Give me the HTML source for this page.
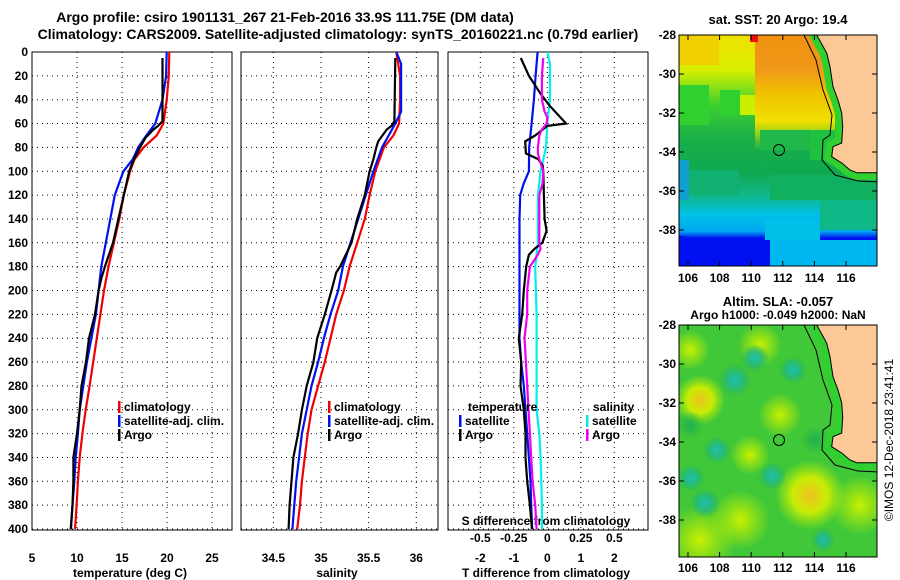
<!DOCTYPE html>
<html><head><meta charset="utf-8"><style>
body{margin:0;background:#fff;}
svg{display:block;font-family:"Liberation Sans",sans-serif;font-weight:bold;}
</style></head><body>
<svg id="chart" width="900" height="580" viewBox="0 0 900 580">
<defs>
<clipPath id="c1"><rect x="32" y="52" width="200" height="478"/></clipPath>
<clipPath id="c2"><rect x="241" y="52" width="197" height="478"/></clipPath>
<clipPath id="c3"><rect x="448" y="52" width="200" height="478"/></clipPath>
<clipPath id="cm1"><rect x="679" y="35" width="198" height="231"/></clipPath>
<clipPath id="cm2"><rect x="679" y="325" width="198" height="232"/></clipPath>
<radialGradient id="gy"><stop offset="0" stop-color="#f0c020"/><stop offset="0.5" stop-color="#d8f000" stop-opacity="0.9"/><stop offset="1" stop-color="#c0f000" stop-opacity="0"/></radialGradient>
<radialGradient id="gl"><stop offset="0" stop-color="#c8f000"/><stop offset="1" stop-color="#c8f000" stop-opacity="0"/></radialGradient>
<radialGradient id="gt"><stop offset="0" stop-color="#20c0b0"/><stop offset="0.5" stop-color="#20b888" stop-opacity="0.8"/><stop offset="1" stop-color="#20b060" stop-opacity="0"/></radialGradient>
<radialGradient id="gd"><stop offset="0" stop-color="#20b050"/><stop offset="1" stop-color="#20b050" stop-opacity="0"/></radialGradient>
<linearGradient id="sst" x1="0" y1="0" x2="0" y2="1">
<stop offset="0" stop-color="#f0e000"/><stop offset="0.15" stop-color="#d8f000"/><stop offset="0.3" stop-color="#40d030"/>
<stop offset="0.45" stop-color="#18b048"/><stop offset="0.6" stop-color="#10a850"/><stop offset="0.7" stop-color="#10b890"/>
<stop offset="0.78" stop-color="#00c0e8"/><stop offset="0.85" stop-color="#00a8f0"/><stop offset="0.88" stop-color="#0010f0"/><stop offset="1" stop-color="#0010f0"/>
</linearGradient>
<linearGradient id="sst2" x1="0" y1="0" x2="0" y2="1">
<stop offset="0" stop-color="#f09010"/><stop offset="0.3" stop-color="#f09818"/><stop offset="0.5" stop-color="#f0c000"/><stop offset="0.75" stop-color="#f0e000"/><stop offset="1" stop-color="#f0e000" stop-opacity="0"/>
</linearGradient>
</defs>
<text x="285" y="22" font-size="14" text-anchor="middle">Argo profile: csiro 1901131_267 21-Feb-2016 33.9S 111.75E (DM data)</text>
<text x="338" y="39" font-size="14" text-anchor="middle">Climatology: CARS2009. Satellite-adjusted climatology: synTS_20160221.nc (0.79d earlier)</text>

<g>
<text x="778" y="24" font-size="13" text-anchor="middle">sat. SST: 20 Argo: 19.4</text>
<g clip-path="url(#cm1)">
<rect x="679" y="35" width="198" height="231" fill="url(#sst)"/>
<rect x="679" y="35" width="40" height="30" fill="#f0d000"/>
<rect x="679" y="85" width="30" height="40" fill="#30d030"/>
<rect x="720" y="90" width="20" height="25" fill="#30d030"/>
<rect x="740" y="95" width="30" height="20" fill="#c8f000"/>
<rect x="755" y="35" width="80" height="115" fill="url(#sst2)"/>
<rect x="810" y="130" width="25" height="30" fill="#20c040"/>
<rect x="760" y="130" width="50" height="20" fill="#20b848"/>
<rect x="679" y="170" width="60" height="25" fill="#10b070"/>
<rect x="679" y="160" width="10" height="40" fill="#10a0d0"/>
<rect x="770" y="175" width="110" height="25" fill="#10b060"/>
<rect x="820" y="200" width="60" height="30" fill="#10b888"/>
<rect x="765" y="220" width="55" height="20" fill="#00c0e8"/>
<rect x="679" y="236" width="6" height="30" fill="#0010f0"/>
<rect x="770" y="240" width="110" height="26" fill="#00b8f0"/>
<rect x="750" y="35" width="8" height="7" fill="#f01010"/>
<path d="M816.7,35 L826.7,53 L830,66.7 L833,86.7 L838,100 L841.7,113 L842.7,126.7 L841.7,143 L833,146.7 L831.7,156.7 L841.7,163 L850,170 L856.7,172.7 L880,172.7 L880,30 Z" fill="#30d030" stroke="#30d030" stroke-width="14"/>
<path d="M816.7,35 L826.7,53 L830,66.7 L833,86.7 L838,100 L841.7,113 L842.7,126.7 L841.7,143 L833,146.7 L831.7,156.7 L841.7,163 L850,170 L856.7,172.7 L880,172.7 L880,30 Z" fill="#fcc896" stroke="#000" stroke-width="1"/>
<path d="M804,35 L816,60 L823,90 L832,115 L830,135 L823,140 L822,160 L835,175 L858,181 L880,182" fill="none" stroke="#000" stroke-width="1"/>
<circle cx="779" cy="150" r="5.5" fill="none" stroke="#000" stroke-width="1"/>
</g>
<rect x="679" y="35" width="198" height="231" fill="none" stroke="#000"/>
</g>
<g>
<text x="778" y="306" font-size="13" text-anchor="middle">Altim. SLA: -0.057</text>
<text x="778" y="319" font-size="12" text-anchor="middle">Argo h1000: -0.049 h2000: NaN</text>
<g clip-path="url(#cm2)">
<rect x="679" y="325" width="198" height="232" fill="#40c838"/>
<circle cx="700" cy="400" r="25" fill="url(#gy)"/>
<circle cx="810" cy="495" r="35" fill="url(#gy)"/>
<circle cx="780" cy="415" r="22" fill="url(#gl)"/>
<circle cx="700" cy="540" r="35" fill="url(#gl)"/>
<circle cx="740" cy="520" r="30" fill="url(#gl)"/>
<circle cx="860" cy="505" r="30" fill="url(#gl)"/>
<circle cx="760" cy="345" r="22" fill="url(#gl)"/>
<circle cx="690" cy="350" r="20" fill="url(#gl)"/>
<circle cx="750" cy="455" r="20" fill="url(#gl)"/>
<circle cx="735" cy="380" r="16" fill="url(#gt)"/>
<circle cx="755" cy="358" r="14" fill="url(#gt)"/>
<circle cx="717" cy="450" r="14" fill="url(#gt)"/>
<circle cx="691" cy="478" r="14" fill="url(#gt)"/>
<circle cx="705" cy="503" r="15" fill="url(#gt)"/>
<circle cx="772" cy="476" r="14" fill="url(#gt)"/>
<circle cx="823" cy="540" r="12" fill="url(#gt)"/>
<circle cx="793" cy="370" r="14" fill="url(#gt)"/>
<circle cx="690" cy="425" r="14" fill="url(#gd)"/>
<circle cx="815" cy="440" r="14" fill="url(#gd)"/>
<path d="M816.7,325 L826.7,343 L830,356.7 L833,376.7 L838,390 L841.7,403 L842.7,416.7 L841.7,433 L833,436.7 L831.7,446.7 L841.7,453 L850,460 L856.7,462.7 L880,462.7 L880,320 Z" fill="#30d030" stroke="#30d030" stroke-width="14"/>
<path d="M816.7,325 L826.7,343 L830,356.7 L833,376.7 L838,390 L841.7,403 L842.7,416.7 L841.7,433 L833,436.7 L831.7,446.7 L841.7,453 L850,460 L856.7,462.7 L880,462.7 L880,320 Z" fill="#fcc896" stroke="#000" stroke-width="1"/>
<path d="M804,325 L816,350 L823,380 L832,405 L830,425 L823,430 L822,450 L835,465 L858,471 L880,472" fill="none" stroke="#000" stroke-width="1"/>
<circle cx="779" cy="440" r="5.5" fill="none" stroke="#000" stroke-width="1"/>
</g>
<rect x="679" y="325" width="198" height="232" fill="none" stroke="#000"/>
</g>
<text transform="translate(893,440) rotate(-90)" font-size="12" font-weight="normal" text-anchor="middle">©IMOS 12-Dec-2018 23:41:41</text>
<g id="dyn"></g>
</svg>
<script>
const depthTicks = [0,20,40,60,80,100,120,140,160,180,200,220,240,260,280,300,320,340,360,380,400];
const tempTicks = [5,10,15,20,25];
const salTicks = [34.5,35,35.5,36];
const dTTicks = [-2,-1,0,1,2];
const dSTicks = [-0.5,-0.25,0,0.25,0.5];
const dSTickLabels = ["-0.5","-0.25","0","0.25","0.5"];
const latTicks = [-28,-30,-32,-34,-36,-38];
const lonTicks = [106,108,110,112,114,116];

const climDepth = [0,20,40,60,70,80,90,100,120,140,160,180,200,220,240,260,280,300,320,340,360,380,400];
const climTemp = [20.26,20.2,19.97,19.6,18.85,17.4,16.4,15.9,15.2,14.7,14.1,13.5,13.0,12.6,12.2,11.8,11.4,10.97,10.6,10.3,10.1,9.96,9.78];
const satDepth = [0,20,40,50,60,70,80,90,100,120,140,160,180,200,220,240,260,280,300,320,340,360,380,400];
const satTemp = [19.97,19.9,19.5,19.1,18.7,17.7,16.8,16.2,15.15,14.2,13.7,13.2,12.7,12.4,12.1,11.6,11.1,10.7,10.3,10.1,9.85,9.7,9.5,9.33];
const argoDepth = [5,58,62,65,72,80,92,100,120,140,160,180,190,200,220,240,260,280,300,320,340,360,380,400];
const argoTemp = [19.5,19.5,19.0,18.5,17.6,17.0,16.2,15.8,15.2,14.6,14.0,13.1,12.7,12.4,12.0,11.33,11.0,10.5,10.3,10.0,9.6,9.6,9.5,9.3];
const climSalDepth = [0,20,40,60,70,80,100,120,140,160,180,200,220,240,260,280,300,320,340,360,380,400];
const climSal = [35.79,35.83,35.83,35.82,35.76,35.66,35.57,35.51,35.46,35.38,35.30,35.24,35.16,35.10,35.04,34.97,34.90,34.86,34.83,34.80,34.78,34.75];
const satSalDepth = [0,10,50,60,70,80,100,120,140,160,180,200,220,240,260,280,300,320,340,360,380,400];
const satSal = [35.79,35.84,35.84,35.78,35.71,35.64,35.55,35.47,35.39,35.31,35.23,35.18,35.10,35.03,34.97,34.90,34.85,34.80,34.77,34.74,34.72,34.70];
const argoSalDepth = [5,58,62,65,75,80,90,100,120,140,160,180,185,200,220,240,260,280,300,320,340,360,380,400];
const argoSal = [35.78,35.77,35.74,35.69,35.60,35.58,35.55,35.51,35.46,35.38,35.32,35.20,35.16,35.11,35.04,34.96,34.92,34.85,34.80,34.76,34.71,34.69,34.67,34.66];
const satDTDepth = [0,20,40,60,80,100,110,120,140,160,180,200,220,240,260,280,300,320,340,360,380,400];
const satDT = [-0.29,-0.35,-0.40,-0.47,-0.54,-0.55,-0.7,-0.81,-0.83,-0.83,-0.83,-0.83,-0.83,-0.83,-0.78,-0.70,-0.65,-0.6,-0.55,-0.5,-0.48,-0.45];
const argoDTDepth = [5,20,35,45,60,62,70,75,85,90,95,100,120,140,150,160,165,170,180,200,220,240,260,280,300,320,340,360,380,400];
const argoDT = [-0.79,-0.55,-0.20,0.07,0.56,0.0,-0.36,-0.66,-0.64,-0.27,-0.14,-0.12,-0.1,-0.08,-0.02,-0.15,-0.38,-0.55,-0.63,-0.70,-0.75,-0.85,-0.78,-0.80,-0.7,-0.65,-0.65,-0.6,-0.52,-0.46];
const satDSDepth = [0,10,40,60,80,100,120,140,160,180,200,220,300,320,340,360,380,400];
const satDS = [0.0,0.02,0.02,0.0,-0.01,-0.05,-0.07,-0.07,-0.07,-0.09,-0.085,-0.08,-0.08,-0.06,-0.05,-0.045,-0.04,-0.04];
const argoDSDepth = [5,20,40,50,55,60,65,70,80,85,90,100,110,120,140,160,165,170,180,200,220,240,260,280,300,320,340,360,380,400];
const argoDS = [-0.03,-0.04,-0.04,-0.02,0,-0.005,-0.04,-0.06,-0.07,-0.07,-0.06,-0.03,-0.035,-0.06,-0.06,-0.06,-0.05,-0.07,-0.13,-0.15,-0.15,-0.17,-0.16,-0.15,-0.14,-0.13,-0.12,-0.11,-0.09,-0.08];

const NS = "http://www.w3.org/2000/svg";
const root = document.getElementById('dyn');
const yD = d => 52 + d * 477 / 400;
const xT = t => 32 + (t - 5) * 9;
const xS = s => 321 + (s - 35) * 95.3;
const xdT = v => 547.3 + v * 33.5;
const xdS = v => 547.3 + v * 134;
const mLat = (lat, top) => top + (-28 - lat) * 19.5;
const mLon = lon => 688 + (lon - 106) * 15.8;

function mk(tag, attrs, parent) {
  const e = document.createElementNS(NS, tag);
  for (const k in attrs) e.setAttribute(k, attrs[k]);
  (parent || root).appendChild(e);
  return e;
}
function txt(x, y, s, size, anchor, parent) {
  const e = mk('text', {x: x, y: y, 'font-size': size, 'text-anchor': anchor}, parent);
  e.textContent = s;
  return e;
}

const panels = [
  {x0: 32, x1: 232, clip: 'c1', name: 'temperature-panel'},
  {x0: 241, x1: 438, clip: 'c2', name: 'salinity-panel'},
  {x0: 448, x1: 648, clip: 'c3', name: 'difference-panel'}
];
const vgrid = [tempTicks.map(xT), salTicks.map(xS), dTTicks.map(xdT)];
panels.forEach((p, i) => {
  const g = mk('g', {});
  
  
  depthTicks.forEach(d => {
    const l = mk('line', {x1: p.x0, x2: p.x1, y1: yD(d), y2: yD(d), stroke: '#000', 'stroke-width': 1, 'stroke-dasharray': '1,4'}, g);
    
    
  });
  vgrid[i].forEach(x => {
    const l = mk('line', {x1: x, x2: x, y1: 52, y2: 530, stroke: '#000', 'stroke-width': 1, 'stroke-dasharray': '1,4'}, g);
    
    
  });
  const f = mk('rect', {x: p.x0, y: 52, width: p.x1 - p.x0, height: 478, fill: 'none', stroke: '#000', 'stroke-width': 1}, g);
  
  
});
depthTicks.forEach(d => {
  const t = txt(28, yD(d) + 4, String(d), 12, 'end');
  
  
});
tempTicks.forEach(v => {
  const t = txt(xT(v), 562, String(v), 12, 'middle');
  
  
});
salTicks.forEach(v => {
  const t = txt(xS(v), 562, String(v), 12, 'middle');
  
  
});
dTTicks.forEach(v => {
  const t = txt(xdT(v), 562, String(v), 12, 'middle');
  
  
});
dSTicks.forEach((v, i) => {
  const t = txt(xdS(v), 542, dSTickLabels[i], 12, 'middle');
  
  
});
let t;
t = txt(130, 577, 'temperature (deg C)', 12, 'middle');


t = txt(337, 577, 'salinity', 12, 'middle');


t = txt(546, 577, 'T difference from climatology', 12, 'middle');


t = txt(546, 525, 'S difference from climatology', 12, 'middle');



function series(depths, vals, xf, color, clip, name) {
  const pts = depths.map((d, i) => xf(vals[i]).toFixed(1) + ',' + yD(d).toFixed(1)).join(' ');
  const pl = mk('polyline', {points: pts, fill: 'none', stroke: color, 'stroke-width': 2.2, 'clip-path': 'url(#' + clip + ')'});
  
  
}
series(climDepth, climTemp, xT, '#f00000', 'c1', 'climatology-temperature-line');
series(satDepth, satTemp, xT, '#0010f0', 'c1', 'satellite-temperature-line');
series(argoDepth, argoTemp, xT, '#000', 'c1', 'argo-temperature-line');
series(climSalDepth, climSal, xS, '#f00000', 'c2', 'climatology-salinity-line');
series(satSalDepth, satSal, xS, '#0010f0', 'c2', 'satellite-salinity-line');
series(argoSalDepth, argoSal, xS, '#000', 'c2', 'argo-salinity-line');
series(satDTDepth, satDT, xdT, '#0010f0', 'c3', 'satellite-t-diff-line');
series(satDSDepth, satDS, xdS, '#00f0f0', 'c3', 'satellite-s-diff-line');
series(argoDTDepth, argoDT, xdT, '#000', 'c3', 'argo-t-diff-line');
series(argoDSDepth, argoDS, xdS, '#f000f0', 'c3', 'argo-s-diff-line');

function legend(mx, y, color, label) {
  const r = mk('rect', {x: mx, y: y - 10, width: 2.5, height: 12, fill: color});
  
  
  const tt = txt(mx + 6, y, label, 12, 'start');
  
  
}
legend(118, 411, '#f00000', 'climatology');
legend(118, 425, '#0010f0', 'satellite-adj. clim.');
legend(118, 439, '#000', 'Argo');
legend(328, 411, '#f00000', 'climatology');
legend(328, 425, '#0010f0', 'satellite-adj. clim.');
legend(328, 439, '#000', 'Argo');
t = txt(468, 411, 'temperature', 12, 'start');


legend(459, 425, '#0010f0', 'satellite');
legend(459, 439, '#000', 'Argo');
t = txt(593, 411, 'salinity', 12, 'start');


legend(586, 425, '#00f0f0', 'satellite');
legend(586, 439, '#f000f0', 'Argo');

[[35, 266, 277], [325, 557, 567]].forEach(m => {
  latTicks.forEach(lat => {
    const y = mLat(lat, m[0]);
    const a = mk('line', {x1: 679, x2: 684, y1: y, y2: y, stroke: '#000'});
    
    
    const b = mk('line', {x1: 872, x2: 877, y1: y, y2: y, stroke: '#000'});
    
    
    const l = txt(676, y + 4, String(lat), 12, 'end');
    
    
  });
  lonTicks.forEach(lon => {
    const x = mLon(lon);
    const a = mk('line', {x1: x, x2: x, y1: m[0], y2: m[0] + 5, stroke: '#000'});
    
    
    const b = mk('line', {x1: x, x2: x, y1: m[1] - 5, y2: m[1], stroke: '#000'});
    
    
    const l = txt(x, m[2] + 5, String(lon), 12, 'middle');
    
    
  });
});
</script>
</body></html>
